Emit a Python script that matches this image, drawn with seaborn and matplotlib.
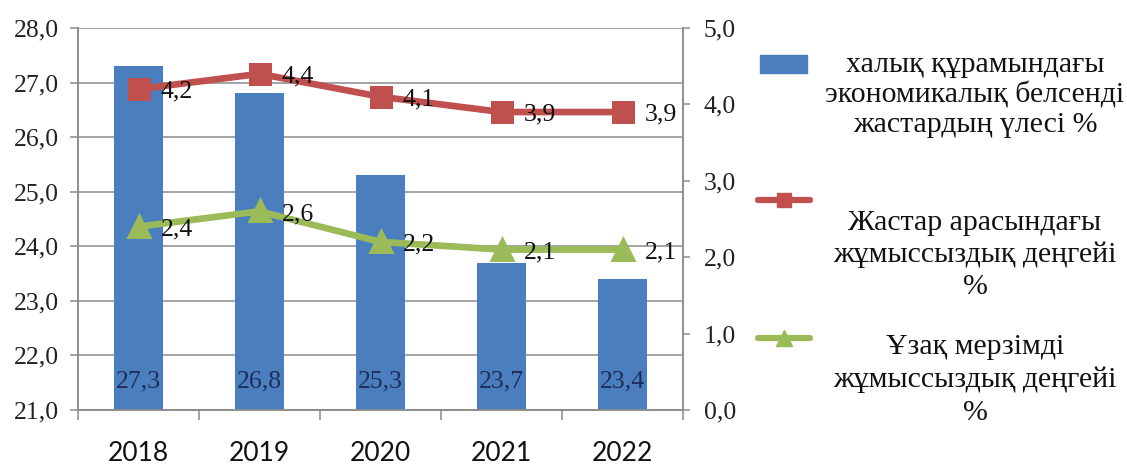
import matplotlib
matplotlib.use("Agg")
import matplotlib.pyplot as plt
import matplotlib.transforms as mtransforms
from matplotlib.lines import Line2D
from matplotlib.patches import Rectangle
from matplotlib.ticker import FixedLocator, FuncFormatter
import seaborn as sns
import pandas as pd

# ---- data ----
years = ["2018", "2019", "2020", "2021", "2022"]
active_share = [27.3, 26.8, 25.3, 23.7, 23.4]      # left axis, bars
youth_unemp = [4.2, 4.4, 4.1, 3.9, 3.9]            # right axis, red line
long_unemp = [2.4, 2.6, 2.2, 2.1, 2.1]             # right axis, green line
legend_labels = [
    "халық құрамындағы\nэкономикалық белсенді\nжастардың үлесі %",
    "Жастар арасындағы\nжұмыссыздық деңгейі\n%",
    "Ұзақ мерзімді\nжұмыссыздық деңгейі\n%",
]

BLUE = "#4A7EBF"
RED = "#C0504D"
GREEN = "#9BBB59"
GRID = "#8C8C8C"
NAVY = "#1F2D5A"

sns.set_theme(style="white")
plt.rcParams['font.family'] = ['Liberation Serif', 'DejaVu Serif']

W, H = 1127, 466
fig = plt.figure(figsize=(W / 100, H / 100), dpi=100)
ax = fig.add_axes([78 / W, 1 - 410 / H, (683 - 78) / W, (410 - 28) / H])

df = pd.DataFrame({"year": years, "share": active_share,
                   "red": youth_unemp, "green": long_unemp})

sns.barplot(data=df, x="year", y="share", color=BLUE, saturation=1,
            width=0.4, linewidth=0, ax=ax, zorder=2)

ax2 = ax.twinx()
sns.pointplot(data=df, x="year", y="red", ax=ax2, color=RED, markers="s",
              markersize=12.5, linewidth=4.8, errorbar=None)
sns.pointplot(data=df, x="year", y="green", ax=ax2, color=GREEN, markers="^",
              markersize=13.5, linewidth=4.8, errorbar=None)

# axes limits
ax.set_ylim(21, 28)
ax2.set_ylim(0, 5)
ax.set_xlim(-0.5, 4.5)
ax.set_xlabel("")
ax.set_ylabel("")
ax2.set_ylabel("")

comma = FuncFormatter(lambda v, p: f"{v:.1f}".replace(".", ","))

# left axis
ax.yaxis.set_major_locator(FixedLocator(range(21, 29)))
ax.yaxis.set_major_formatter(comma)
ax.tick_params(axis="y", which="major", left=True, length=6, width=1.1,
               color=GRID, pad=8, labelsize=18.5, labelcolor="#222222")
ax.grid(axis="y", color=GRID, linewidth=1.1)
ax.set_axisbelow(True)

# x axis
ax.set_xticks(range(len(years)))
ax.set_xticklabels(years, fontsize=19, fontfamily="Lato", color="#111111")
ax.xaxis.set_minor_locator(FixedLocator([i - 0.5 for i in range(len(years) + 1)]))
ax.tick_params(axis="x", which="major", length=0, pad=22)
ax.tick_params(axis="x", which="minor", bottom=True, length=7, width=1.1,
               color=GRID, direction="out")

# right axis
ax2.yaxis.set_major_locator(FixedLocator(range(0, 6)))
ax2.yaxis.set_major_formatter(comma)
ax2.tick_params(axis="y", right=True, length=5, width=1.1, color=GRID,
                pad=10, labelsize=18.5, labelcolor="#222222")

for a in (ax, ax2):
    for side in ("left", "right", "bottom"):
        a.spines[side].set_color(GRID)
        a.spines[side].set_linewidth(1.1)
    a.spines["top"].set_visible(False)

# bar value labels at bottom of bars
blend = mtransforms.blended_transform_factory(ax.transData, ax.transAxes)
for i, v in enumerate(active_share):
    ax.text(i, 0.075, f"{v:.1f}".replace(".", ","), transform=blend,
            ha="center", va="center", fontsize=18.5, color=NAVY, zorder=3)

# line value labels
for series in (youth_unemp, long_unemp):
    for i, v in enumerate(series):
        ax2.annotate(f"{v:.1f}".replace(".", ","), (i, v), xytext=(16, -2),
                     textcoords="offset points", ha="left", va="center",
                     fontsize=18.5, color="#111111")

# manual legend
fig.add_artist(Rectangle((760 / W, 1 - 73 / H), 47 / W, 18 / H,
                         transform=fig.transFigure, color=BLUE))
for y, col, mk, ms in ((200, RED, "s", 10), (338, GREEN, "^", 11)):
    fig.add_artist(Line2D([758 / W, 810 / W], [1 - y / H] * 2,
                          transform=fig.transFigure, color=col, lw=4.5))
    fig.add_artist(Line2D([784 / W], [1 - y / H], transform=fig.transFigure,
                          color=col, marker=mk, markersize=ms, lw=0))

for (yc, lab, ls) in zip((95, 255, 380), legend_labels, (1.15, 1.3, 1.35)):
    fig.text(975 / W, 1 - yc / H, lab, ha="center", va="center",
             multialignment="center", fontsize=21.5, linespacing=ls,
             color="#111111")

fig.savefig("out.png", dpi=100)
